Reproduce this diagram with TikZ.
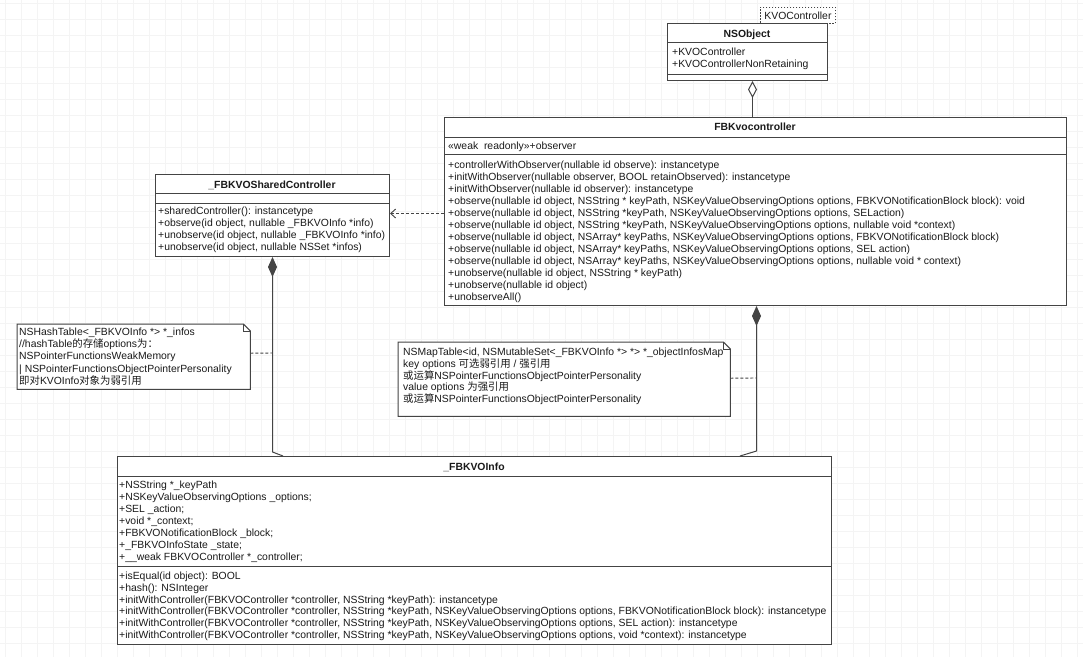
\documentclass[tikz,border=0pt]{standalone}
\usepackage{fontspec}
\setmainfont{Liberation Sans}
\newfontfamily\cjk{Noto Sans CJK SC}
\usetikzlibrary{arrows.meta}
\definecolor{linec}{HTML}{444444}
\definecolor{textc}{HTML}{1A1A1A}
\definecolor{gridc}{HTML}{F4F4F4}
\begin{document}
\begin{tikzpicture}[x=1pt,y=-1pt,
  font=\fontsize{10.4}{12}\selectfont,
  box/.style={draw=linec, line width=1pt, fill=white, inner sep=0pt, anchor=north west},
  notebox/.style={inner sep=0pt, anchor=north west},
  txt/.style={anchor=base west, inner sep=0pt, text=textc},
  ttl/.style={anchor=base, inner sep=0pt, text=textc, font=\fontsize{10.4}{12}\selectfont\bfseries},
  sepline/.style={draw=linec, line width=1pt},
  comp/.style={draw=linec, line width=1pt, {Diamond[length=20pt,width=9pt,fill=linec]}-},
  aggr/.style={draw=linec, line width=1pt, {Diamond[open,length=17pt,width=9pt,fill=white]}-},
  dep/.style={draw=linec, line width=0.9pt, dash pattern=on 3pt off 2pt, -{Straight Barb[length=5pt,width=9pt]}},
  notelink/.style={draw=linec, line width=0.9pt, dash pattern=on 3pt off 2pt}
]
\useasboundingbox[fill=white] (0,0) rectangle (1083,657);
% background grid
\foreach \k in {0,...,67} \draw[gridc, line width=0.8pt] (5+16*\k,0) -- (5+16*\k,657);
\foreach \k in {0,...,40} \draw[gridc, line width=0.8pt] (0,3+16*\k) -- (1083,3+16*\k);

% ---------- NSObject ----------
\node[draw=linec, dash pattern=on 1.5pt off 1.5pt, line width=0.9pt, fill=white, inner sep=0pt,
      minimum width=75pt, minimum height=16pt, anchor=north west, text=textc] (kvo) at (760,7) {KVOController};
\node[box, minimum width=160pt, minimum height=57pt] (nsobj) at (667,23) {};
\draw[sepline] (nsobj.west |- 0,42) -- (nsobj.east |- 0,42);
\draw[sepline] (nsobj.west |- 0,74) -- (nsobj.east |- 0,74);
\node[ttl] (nsobjt) at (747,37) {NSObject};
\node[txt] (nsobja0) at (672,55.7) {+KVOController};
\node[txt] (nsobja1) at (672,67.2) {+KVOControllerNonRetaining};

% ---------- FBKvocontroller ----------
\node[box, minimum width=622pt, minimum height=188pt] (fbk) at (444,117) {};
\draw[sepline] (fbk.west |- 0,137) -- (fbk.east |- 0,137);
\draw[sepline] (fbk.west |- 0,154) -- (fbk.east |- 0,154);
\node[ttl] (fbkt) at (755,130.5) {FBKvocontroller};
\node[txt] (fbka0) at (448,149.5) {«weak\ \ readonly»+observer};
\foreach \t [count=\i from 0] in {
  {+controllerWithObserver(nullable id observe): instancetype},
  {+initWithObserver(nullable observer, BOOL retainObserved): instancetype},
  {+initWithObserver(nullable id observer): instancetype},
  {+observe(nullable id object, NSString * keyPath, NSKeyValueObservingOptions options, FBKVONotificationBlock block): void},
  {+observe(nullable id object, NSString *keyPath, NSKeyValueObservingOptions options, SELaction)},
  {+observe(nullable id object, NSString *keyPath, NSKeyValueObservingOptions options, nullable void *context)},
  {+observe(nullable id object, NSArray* keyPaths, NSKeyValueObservingOptions options, FBKVONotificationBlock block)},
  {+observe(nullable id object, NSArray* keyPaths, NSKeyValueObservingOptions options, SEL action)},
  {+observe(nullable id object, NSArray* keyPaths, NSKeyValueObservingOptions options, nullable void * context)},
  {+unobserve(nullable id object, NSString * keyPath)},
  {+unobserve(nullable id object)},
  {+unobserveAll()}}
  \node[txt] (fbkm\i) at (448,168.1+12.03*\i) {\t};

% ---------- _FBKVOSharedController ----------
\node[box, minimum width=234pt, minimum height=82pt] (shared) at (155,174) {};
\draw[sepline] (shared.west |- 0,193) -- (shared.east |- 0,193);
\draw[sepline] (shared.west |- 0,203) -- (shared.east |- 0,203);
\node[ttl] (sharedt) at (272,188) {\_FBKVOSharedController};
\foreach \t [count=\i from 0] in {
  {+sharedController(): instancetype},
  {+observe(id object, nullable \_FBKVOInfo *info)},
  {+unobserve(id object, nullable \_FBKVOInfo *info)},
  {+unobserve(id object, nullable NSSet *infos)}}
  \node[txt] (sharedm\i) at (158,214.5+12*\i) {\t};

% ---------- notes ----------
\node[notebox, minimum width=233pt, minimum height=65pt] (note1) at (17,324) {};
\draw[sepline, fill=white] (note1.south west) -- (note1.north west) -- ([xshift=-7pt]note1.north east)
   -- ([yshift=-7pt]note1.north east) -- (note1.south east) -- cycle;
\draw[sepline] ([xshift=-7pt]note1.north east) -- ([xshift=-7pt,yshift=-7pt]note1.north east) -- ([yshift=-7pt]note1.north east);
\foreach \t [count=\i from 0] in {
  {NSHashTable<\_FBKVOInfo *> *\_infos},
  {//hashTable{\cjk 的存储}options{\cjk 为：}},
  {NSPointerFunctionsWeakMemory},
  {| NSPointerFunctionsObjectPointerPersonality},
  {{\cjk 即对}KVOInfo{\cjk 对象为弱引用}}}
  \node[txt] (note1l\i) at (19,335.3+12.3*\i) {\t};

\node[notebox, minimum width=332pt, minimum height=74pt] (note2) at (398,342) {};
\draw[sepline, fill=white] (note2.south west) -- (note2.north west) -- ([xshift=-7pt]note2.north east)
   -- ([yshift=-7pt]note2.north east) -- (note2.south east) -- cycle;
\draw[sepline] ([xshift=-7pt]note2.north east) -- ([xshift=-7pt,yshift=-7pt]note2.north east) -- ([yshift=-7pt]note2.north east);
\foreach \t [count=\i from 0] in {
  {NSMapTable<id, NSMutableSet<\_FBKVOInfo *> *> *\_objectInfosMap},
  {key options {\cjk 可选弱引用} / {\cjk 强引用}},
  {{\cjk 或运算}NSPointerFunctionsObjectPointerPersonality},
  {value options {\cjk 为强引用}},
  {{\cjk 或运算}NSPointerFunctionsObjectPointerPersonality}}
  \node[txt] (note2l\i) at (403,355.5+11.8*\i) {\t};

% ---------- _FBKVOInfo ----------
\node[box, minimum width=714pt, minimum height=188pt] (info) at (117,456) {};
\draw[sepline] (info.west |- 0,476) -- (info.east |- 0,476);
\draw[sepline] (info.west |- 0,566) -- (info.east |- 0,566);
\node[ttl] (infot) at (474,470.5) {\_FBKVOInfo};
\foreach \t [count=\i from 0] in {
  {+NSString *\_keyPath},
  {+NSKeyValueObservingOptions \_options;},
  {+SEL \_action;},
  {+void *\_context;},
  {+FBKVONotificationBlock \_block;},
  {+\_FBKVOInfoState \_state;},
  {+\_\_weak FBKVOController *\_controller;}}
  \node[txt] (infoa\i) at (119,488.1+12.05*\i) {\t};
\foreach \t [count=\i from 0] in {
  {+isEqual(id object): BOOL},
  {+hash(): NSInteger},
  {+initWithController(FBKVOController *controller, NSString *keyPath): instancetype},
  {+initWithController(FBKVOController *controller, NSString *keyPath, NSKeyValueObservingOptions options, FBKVONotificationBlock block): instancetype},
  {+initWithController(FBKVOController *controller, NSString *keyPath, NSKeyValueObservingOptions options, SEL action): instancetype},
  {+initWithController(FBKVOController *controller, NSString *keyPath, NSKeyValueObservingOptions options, void *context): instancetype}}
  \node[txt] (infom\i) at (119,579.8+11.7*\i) {\t};

% ---------- connectors ----------
\coordinate (aggtop) at ([xshift=5pt]nsobj.south);
\draw[aggr] (aggtop) -- (aggtop |- fbk.north);

\coordinate (deptip) at ([yshift=2pt]shared.east);
\draw[dep] (fbk.west |- deptip) -- (deptip);

\coordinate (c1bend) at (shared.south |- 0,452);
\draw[comp] (shared.south) -- (c1bend) -- (info.north -| 283,0);

\coordinate (c2top) at ([xshift=1pt]fbk.south);
\coordinate (c2bend) at (c2top |- 0,451);
\draw[comp] (c2top) -- (c2bend) -- (info.north -| 740,0);

\draw[notelink] ([yshift=3.5pt]note1.east) -- (shared.south |- 0,353);
\draw[notelink] ([yshift=1pt]note2.east) -- (c2top |- 0,378);
\end{tikzpicture}
\end{document}
